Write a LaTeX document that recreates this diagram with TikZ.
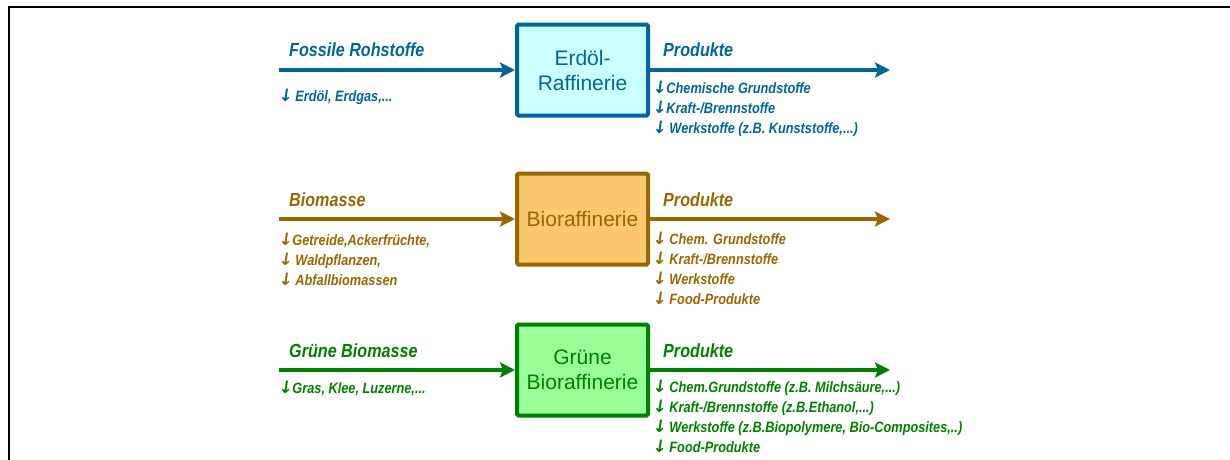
\documentclass[tikz,border=0pt]{standalone}
\usepackage{fontspec}
\setmainfont{Liberation Sans}
\newfontfamily\narrowfont[FakeStretch=0.85]{Liberation Sans}
\newfontfamily\arrowfont[FakeSlant=0.15]{DejaVu Sans}
\usetikzlibrary{arrows.meta}

\definecolor{oilblue}{HTML}{006699}
\definecolor{oilfill}{HTML}{CCFFFF}
\definecolor{biobrown}{HTML}{996600}
\definecolor{biofill}{HTML}{F9C86F}
\definecolor{greendark}{HTML}{008000}
\definecolor{greenfill}{HTML}{99FF99}

% bullet arrow in front of each list entry
\newcommand{\dn}{{\arrowfont\bfseries\fontsize{17}{19}\selectfont ↓}}
\newcommand{\gap}{\hspace{3pt}}

\tikzset{
  refinery/.style={draw=#1, line width=4pt, rounded corners=1.5pt,
    minimum width=131pt, minimum height=91pt, inner sep=0pt,
    align=center, text=#1, font=\fontsize{21}{25}\selectfont},
  flow/.style={draw=#1, line width=4pt,
    -{Stealth[length=15pt,width=15pt,inset=3pt]}},
  heading/.style={anchor=west, inner sep=0pt, text=#1,
    font=\narrowfont\bfseries\itshape\fontsize{19}{22}\selectfont},
  itemlist/.style={anchor=north west, inner sep=0pt, align=left, text=#1,
    font=\narrowfont\bfseries\itshape\fontsize{15}{19.8}\selectfont},
}

\begin{document}
\begin{tikzpicture}[x=1pt, y=-1pt]
  \useasboundingbox (0,0) rectangle (1230,459);
  \clip (0,0) rectangle (1230,459);

  % outer frame
  \node[draw=black, line width=2pt, minimum width=1260pt, minimum height=480pt,
        anchor=north west, inner sep=0pt] (frame) at (8,6) {};

  % --- fossil refinery ---
  \node[refinery=oilblue, fill=oilfill] (box1) at (582.5,70) {Erdöl-\\Raffinerie};
  \coordinate (in1) at (279,70);
  \coordinate (out1) at (890,70);
  \draw[flow=oilblue] (in1) -- (box1.west);
  \draw[flow=oilblue] (box1.east) -- (out1);
  \node[heading=oilblue] (src1) at (289,50) {Fossile Rohstoffe};
  \node[itemlist=oilblue] (raw1) at (278,89) {\dn\gap Erdöl, Erdgas,...};
  \node[heading=oilblue] (prod1) at (663,50) {Produkte};
  \node[itemlist=oilblue] (list1) at (652,81)
    {\dn Chemische Grundstoffe\\\dn Kraft-/Brennstoffe\\\dn\gap Werkstoffe (z.B. Kunststoffe,...)};

  % --- biorefinery ---
  \node[refinery=biobrown, fill=biofill] (box2) at (582.5,219) {Bioraffinerie};
  \coordinate (in2) at (279,219);
  \coordinate (out2) at (890,219);
  \draw[flow=biobrown] (in2) -- (box2.west);
  \draw[flow=biobrown] (box2.east) -- (out2);
  \node[heading=biobrown] (src2) at (289,200) {Biomasse};
  \node[itemlist=biobrown] (raw2) at (278,233)
    {\dn Getreide,Ackerfrüchte,\\\dn\gap Waldpflanzen,\\\dn\gap Abfallbiomassen};
  \node[heading=biobrown] (prod2) at (663,200) {Produkte};
  \node[itemlist=biobrown] (list2) at (652,232)
    {\dn\gap Chem. Grundstoffe\\\dn\gap Kraft-/Brennstoffe\\\dn\gap Werkstoffe\\\dn\gap Food-Produkte};

  % --- green biorefinery ---
  \node[refinery=greendark, fill=greenfill] (box3) at (582.5,370) {Grüne\\Bioraffinerie};
  \coordinate (in3) at (279,370);
  \coordinate (out3) at (890,370);
  \draw[flow=greendark] (in3) -- (box3.west);
  \draw[flow=greendark] (box3.east) -- (out3);
  \node[heading=greendark] (src3) at (289,351) {Grüne Biomasse};
  \node[itemlist=greendark] (raw3) at (278,381) {\dn Gras, Klee, Luzerne,...};
  \node[heading=greendark] (prod3) at (663,351) {Produkte};
  \node[itemlist=greendark] (list3) at (652,380)
    {\dn\gap Chem.Grundstoffe (z.B. Milchsäure,...)\\\dn\gap Kraft-/Brennstoffe (z.B.Ethanol,...)\\\dn\gap Werkstoffe (z.B.Biopolymere, Bio-Composites,..)\\\dn\gap Food-Produkte};
\end{tikzpicture}
\end{document}
